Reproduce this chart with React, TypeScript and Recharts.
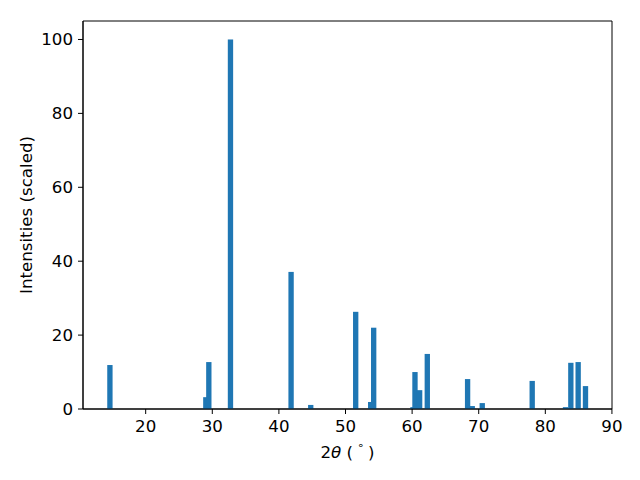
import React from 'react';
import { BarChart, Bar, XAxis, YAxis, ReferenceArea, Label } from 'recharts';

// peak positions (2θ, degrees) and scaled intensities
const twoTheta = [14.6, 29.0, 29.45, 32.7, 41.8, 44.75, 51.5, 53.75, 54.2, 60.1, 60.4, 61.1, 62.25, 68.3, 69.0, 70.5, 78.0, 83.0, 83.8, 84.9, 86.0];
const intensity = [11.9, 3.2, 12.7, 100, 37.1, 1.1, 26.3, 1.9, 22.0, 0.5, 10.0, 5.1, 14.9, 8.1, 0.8, 1.6, 7.6, 0.5, 12.5, 12.7, 6.2];
const xTicks = [20, 30, 40, 50, 60, 70, 80, 90];
const yTicks = [0, 20, 40, 60, 80, 100];

const X_DOMAIN: [number, number] = [10.59, 90.01];
const Y_DOMAIN: [number, number] = [0, 105];

const chartData = twoTheta.map((t, i) => ({ theta: t, value: intensity[i] }));

const FONT = 'DejaVu Sans, sans-serif';
const FS = 16.67;
const BLUE = '#1f77b4';
// plot area is 529px wide for 79.42 units, matplotlib bar width 0.8
const BAR_W = (0.8 * 529) / (X_DOMAIN[1] - X_DOMAIN[0]);

// recentre each bar on its x value with a fixed width
const PeakBar = (props: any) => {
  const { x, y, width, height } = props;
  if (height == null || height <= 0) return null;
  const cx = x + width / 2;
  return <rect x={cx - BAR_W / 2} y={y} width={BAR_W} height={height} fill={BLUE} />;
};

const XLabel = ({ viewBox }: any) => {
  const cx = viewBox.x + viewBox.width / 2;
  return (
    <text x={cx} y={viewBox.y + 43} textAnchor="middle" dominantBaseline="central" fontFamily={FONT} fontSize={FS} fill="#000">
      2<tspan fontStyle="italic">θ</tspan> (<tspan fontSize={11} dx={4} dy={-7}>∘</tspan><tspan dx={4} dy={7}>)</tspan>
    </text>
  );
};

const YLabel = ({ viewBox }: any) => {
  const x = viewBox.x + 3;
  const y = viewBox.y + viewBox.height / 2;
  return (
    <text x={x} y={y} transform={`rotate(-90, ${x}, ${y})`} textAnchor="middle" dominantBaseline="central" fontFamily={FONT} fontSize={FS} fill="#000">
      Intensities (scaled)
    </text>
  );
};

export default function App() {
  return (
    <div style={{ width: 640, height: 480, background: '#fff' }}>
      <style>{`body { margin: 0; }`}</style>
      <BarChart
        width={640}
        height={480}
        data={chartData}
        margin={{ top: 21, right: 28, left: 23, bottom: 41 }}
      >
        <XAxis
          dataKey="theta"
          type="number"
          domain={X_DOMAIN}
          ticks={xTicks}
          allowDataOverflow
          height={30}
          tickSize={5}
          tickMargin={6}
          stroke="#000"
          tick={{ fill: '#000', fontSize: FS, fontFamily: FONT }}
        >
          <Label content={<XLabel />} />
        </XAxis>
        <YAxis
          type="number"
          domain={Y_DOMAIN}
          ticks={yTicks}
          allowDataOverflow
          width={60}
          tickSize={5}
          tickMargin={5}
          stroke="#000"
          tick={{ fill: '#000', fontSize: FS, fontFamily: FONT }}
        >
          <Label content={<YLabel />} />
        </YAxis>
        <Bar dataKey="value" fill={BLUE} shape={<PeakBar />} isAnimationActive={false} />
        <ReferenceArea x1={X_DOMAIN[0]} x2={X_DOMAIN[1]} y1={Y_DOMAIN[0]} y2={Y_DOMAIN[1]} fill="none" stroke="#000" strokeOpacity={1} fillOpacity={0} />
      </BarChart>
    </div>
  );
}
